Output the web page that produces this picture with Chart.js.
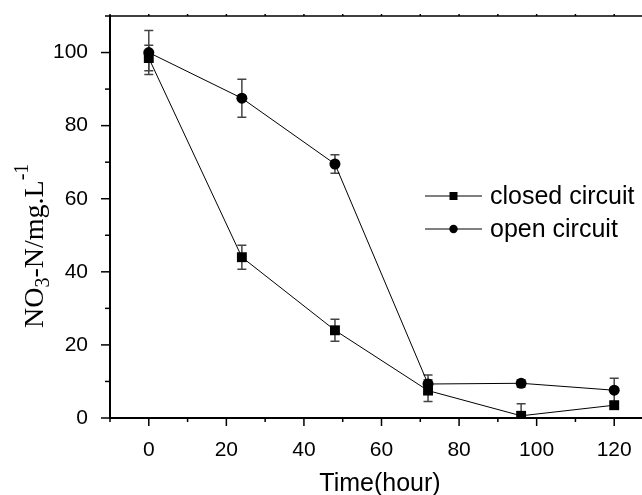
<!DOCTYPE html>
<html>
<head>
<meta charset="utf-8">
<script src="https://cdn.jsdelivr.net/npm/chart.js@4.4.1/dist/chart.umd.min.js"></script>
<style>
    html, body { margin: 0; padding: 0; background: #fff; overflow: hidden; }
    #chart { display: block; }
</style>
</head>
<body>
<canvas id="chart" width="660" height="495"></canvas>
<script>
// Data
const hours = [0, 24, 48, 72, 96, 120];
const closedCircuit = [98.5, 44, 24, 7.5, 0.6, 3.5];
const closedErr = [3.5, 3.3, 3, 3, 3.3, 1];
const openCircuit = [100, 87.5, 69.5, 9.3, 9.5, 7.6];
const openErr = [6, 5.2, 2.5, 2.5, 1, 3.3];
const xTickLabels = [0, 20, 40, 60, 80, 100, 120];
const yTickLabels = [0, 20, 40, 60, 80, 100];

const sans = '"Liberation Sans", Arial, Helvetica, sans-serif';
const serif = '"Liberation Serif", "Times New Roman", serif';

const errors = [closedErr, openErr];

// error bars, minor/major ticks, axis titles and the legend
const decor = {
    id: 'decor',
    beforeDatasetsDraw(chart) {
        const ctx = chart.ctx;
        const xs = chart.scales.x, ys = chart.scales.y;
        ctx.save();
        ctx.strokeStyle = '#444';
        ctx.lineWidth = 1.5;
        chart.data.datasets.forEach((ds, d) => {
            ds.data.forEach((p, i) => {
                const e = errors[d][i];
                const px = xs.getPixelForValue(p.x);
                const top = ys.getPixelForValue(p.y + e);
                const bot = ys.getPixelForValue(Math.max(p.y - e, 0));
                ctx.beginPath();
                ctx.moveTo(px, top); ctx.lineTo(px, bot);
                ctx.moveTo(px - 4.5, top); ctx.lineTo(px + 4.5, top);
                if (p.y - e > 0) { ctx.moveTo(px - 4.5, bot); ctx.lineTo(px + 4.5, bot); }
                ctx.stroke();
            });
        });
        ctx.restore();
    },
    afterDraw(chart) {
        const ctx = chart.ctx;
        const area = chart.chartArea;
        const xs = chart.scales.x, ys = chart.scales.y;
        ctx.save();
        ctx.strokeStyle = '#000';

        // top frame line
        ctx.lineWidth = 1.5;
        ctx.beginPath();
        ctx.moveTo(area.left, area.top);
        ctx.lineTo(area.right + 5, area.top);
        ctx.stroke();

        // x ticks (bottom outward, top small)
        for (let v = -10; v <= 130; v += 10) {
            const px = xs.getPixelForValue(v);
            const len = v % 20 === 0 ? 8 : 4;
            ctx.beginPath();
            ctx.moveTo(px, area.bottom); ctx.lineTo(px, area.bottom + len);
            ctx.moveTo(px, area.top); ctx.lineTo(px, area.top - 2);
            ctx.stroke();
        }
        // y ticks
        for (let v = 0; v <= 110; v += 10) {
            const py = ys.getPixelForValue(v);
            const len = v % 20 === 0 ? 9 : 5;
            ctx.beginPath();
            ctx.moveTo(area.left - len, py); ctx.lineTo(area.left, py);
            ctx.stroke();
        }

        // x title
        ctx.fillStyle = '#000';
        ctx.font = '25px ' + sans;
        ctx.textAlign = 'center';
        ctx.textBaseline = 'alphabetic';
        ctx.fillText('Time(hour)', 380, 491);

        // y title with subscript / superscript
        ctx.save();
        ctx.translate(43, 328);
        ctx.rotate(-Math.PI / 2);
        ctx.textAlign = 'left';
        let x = 0;
        const part = (txt, size, dy) => {
            ctx.font = size + 'px ' + serif;
            ctx.fillText(txt, x, dy);
            x += ctx.measureText(txt).width;
        };
        part('NO', 28, 0);
        part('3', 20, 6);
        part('-N/mg.L', 28, 0);
        part('-1', 20, -15);
        ctx.restore();

        // legend
        const rows = [196, 229];
        chart.data.datasets.forEach((ds, d) => {
            const y = rows[d];
            ctx.lineWidth = 1;
            ctx.beginPath();
            ctx.moveTo(425, y); ctx.lineTo(482, y);
            ctx.stroke();
            ctx.fillStyle = '#000';
            ctx.beginPath();
            if (ds.pointStyle === 'rect') {
                ctx.rect(449.5, y - 4, 8, 8);
            } else {
                ctx.arc(453.5, y, 4.2, 0, Math.PI * 2);
            }
            ctx.fill();
            ctx.font = '25px ' + sans;
            ctx.textAlign = 'left';
            ctx.textBaseline = 'middle';
            ctx.fillText(ds.label, 490, y + 1);
        });
        ctx.restore();
    }
};

const ctx = document.getElementById('chart').getContext('2d');
const chart = new Chart(ctx, {
    type: 'line',
    data: {
        datasets: [{
            label: 'closed circuit',
            data: hours.map((h, i) => ({ x: h, y: closedCircuit[i] })),
            borderColor: '#000',
            backgroundColor: '#000',
            borderWidth: 1,
            pointStyle: 'rect',
            pointRadius: 7,
            pointBorderWidth: 0,
            tension: 0
        },
        {
            label: 'open circuit',
            data: hours.map((h, i) => ({ x: h, y: openCircuit[i] })),
            borderColor: '#000',
            backgroundColor: '#000',
            borderWidth: 1,
            pointStyle: 'circle',
            pointRadius: 5.5,
            pointBorderWidth: 0,
            tension: 0
        }]
    },
    options: {
        responsive: false,
        animation: false,
        layout: { padding: { top: 16, left: 0, right: 0, bottom: 0 } },
        plugins: {
            legend: { display: false },
            tooltip: { enabled: false }
        },
        scales: {
            x: {
                type: 'linear',
                min: -10,
                max: 130,
                afterFit: (scale) => {
                    scale.height = 77;
                    scale.paddingLeft = 0;
                    scale.paddingRight = 0;
                },
                grid: { display: false },
                border: { display: true, color: '#000', width: 2 },
                ticks: {
                    stepSize: 10,
                    padding: 12,
                    color: '#000',
                    font: { family: sans, size: 21 },
                    maxRotation: 0,
                    autoSkip: false,
                    callback: (v) => xTickLabels.includes(v) ? String(v) : ''
                }
            },
            y: {
                type: 'linear',
                min: 0,
                max: 110,
                afterFit: (scale) => {
                    scale.width = 110;
                    scale.paddingTop = 0;
                    scale.paddingBottom = 0;
                },
                grid: { display: false },
                border: { display: true, color: '#000', width: 2 },
                ticks: {
                    stepSize: 10,
                    padding: 14,
                    color: '#000',
                    font: { family: sans, size: 21 },
                    autoSkip: false,
                    callback: (v) => yTickLabels.includes(v) ? String(v) : ''
                }
            }
        }
    },
    plugins: [decor]
});
</script>
</body>
</html>
